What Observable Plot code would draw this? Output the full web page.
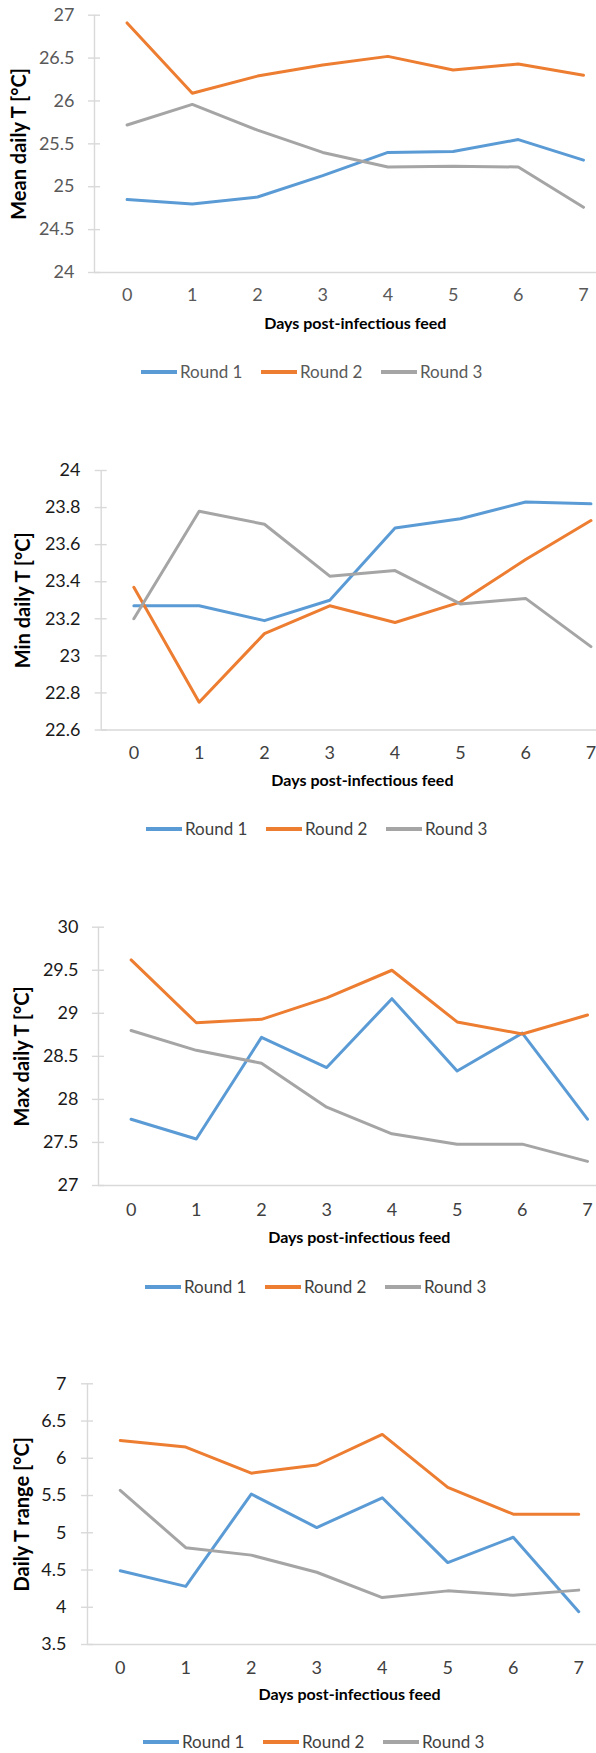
<!DOCTYPE html>
<html><head><meta charset="utf-8">
<script src="https://cdn.jsdelivr.net/npm/d3@7"></script>
<script src="https://cdn.jsdelivr.net/npm/@observablehq/plot@0.6"></script>
<style>
html,body{margin:0;padding:0;background:#fff;overflow:hidden;}
#root{position:relative;width:596px;height:1753px;overflow:hidden;font-family:Lato,"Open Sans",sans-serif;}
.panel{position:absolute;left:0;}
.panel svg{display:block;}
.legend{position:absolute;display:flex;align-items:center;font-size:17px;line-height:20px;white-space:nowrap;}
.legend .item{display:flex;align-items:center;width:120px;}
.legend .sw{width:36px;height:3.2px;margin-right:3px;flex:none;}
</style></head><body><div id="root"></div>
<script>
// ---- data ----
const days = [0, 1, 2, 3, 4, 5, 6, 7];
const seriesNames = ["Round 1", "Round 2", "Round 3"];
const seriesColors = ["#5B9BD5", "#ED7D31", "#A5A5A5"];
const xTitle = "Days post-infectious feed";

const meanTitle = "Mean daily T [°C]";
const meanTicks = [24, 24.5, 25, 25.5, 26, 26.5, 27];
const meanR1 = [24.85, 24.80, 24.88, 25.13, 25.40, 25.41, 25.55, 25.31];
const meanR2 = [26.91, 26.09, 26.29, 26.42, 26.52, 26.36, 26.43, 26.30];
const meanR3 = [25.72, 25.96, 25.66, 25.40, 25.23, 25.24, 25.23, 24.76];

const minTitle = "Min daily T [°C]";
const minTicks = [22.6, 22.8, 23, 23.2, 23.4, 23.6, 23.8, 24];
const minR1 = [23.27, 23.27, 23.19, 23.30, 23.69, 23.74, 23.83, 23.82];
const minR2 = [23.37, 22.75, 23.12, 23.27, 23.18, 23.29, 23.52, 23.73];
const minR3 = [23.20, 23.78, 23.71, 23.43, 23.46, 23.28, 23.31, 23.05];

const maxTitle = "Max daily T [°C]";
const maxTicks = [27, 27.5, 28, 28.5, 29, 29.5, 30];
const maxR1 = [27.77, 27.54, 28.72, 28.37, 29.17, 28.33, 28.77, 27.77];
const maxR2 = [29.62, 28.89, 28.93, 29.18, 29.50, 28.90, 28.76, 28.98];
const maxR3 = [28.80, 28.57, 28.42, 27.91, 27.60, 27.48, 27.48, 27.28];

const rangeTitle = "Daily T range [°C]";
const rangeTicks = [3.5, 4, 4.5, 5, 5.5, 6, 6.5, 7];
const rangeR1 = [4.49, 4.28, 5.52, 5.07, 5.47, 4.60, 4.94, 3.94];
const rangeR2 = [6.24, 6.15, 5.80, 5.91, 6.32, 5.61, 5.25, 5.25];
const rangeR3 = [5.57, 4.80, 4.70, 4.47, 4.13, 4.22, 4.16, 4.23];

// ---- layout ----
const panels = [
  {yTitle: meanTitle, yTicks: meanTicks, series: [meanR1, meanR2, meanR3],
   top: 0, height: 345, frameTop: 14.7, frameBottom: 272, axisX: 94, step: 65.2, labelRight: 74,
   yTitleX: 19, xPad: 16, xTitleDy: 51, legendLeft: 141, legendY: 372,
   yTickColor: "#595959", xTickColor: "#595959", legendColor: "#595959"},
  {yTitle: minTitle, yTicks: minTicks, series: [minR1, minR2, minR3],
   top: 440, height: 350, frameTop: 470, frameBottom: 729.5, axisX: 100.7, step: 65.3, labelRight: 80,
   yTitleX: 23, xPad: 16.5, xTitleDy: 51, legendLeft: 146, legendY: 829,
   yTickColor: "#1a1a1a", xTickColor: "#404040", legendColor: "#404040"},
  {yTitle: maxTitle, yTicks: maxTicks, series: [maxR1, maxR2, maxR3],
   top: 880, height: 360, frameTop: 926.7, frameBottom: 1185, axisX: 98, step: 65.2, labelRight: 78,
   yTitleX: 22, xPad: 17.5, xTitleDy: 52, legendLeft: 145, legendY: 1287,
   yTickColor: "#1a1a1a", xTickColor: "#404040", legendColor: "#404040"},
  {yTitle: rangeTitle, yTicks: rangeTicks, series: [rangeR1, rangeR2, rangeR3],
   top: 1320, height: 390, frameTop: 1383.3, frameBottom: 1644, axisX: 87, step: 65.5, labelRight: 66,
   yTitleX: 22, xPad: 16.5, xTitleDy: 50, legendLeft: 143, legendY: 1742,
   yTickColor: "#1a1a1a", xTickColor: "#404040", legendColor: "#404040"}
];

const root = document.getElementById("root");
const axisGray = "#d9d9d9";

panels.forEach(p => {
  const rows = [];
  p.series.forEach((vals, si) => vals.forEach((v, i) => rows.push({day: days[i], value: v, series: seriesNames[si]})));
  const yMin = p.yTicks[0], yMax = p.yTicks[p.yTicks.length - 1];
  const xLo = days[0] - 0.5, xHi = days[days.length - 1] + 0.5;
  const H = p.height;
  const chart = Plot.plot({
    width: 596, height: H,
    marginTop: p.frameTop - p.top,
    marginBottom: H - (p.frameBottom - p.top),
    marginLeft: p.axisX, marginRight: 0,
    x: {type: "linear", domain: [xLo, xHi], range: [p.axisX, p.axisX + days.length * p.step]},
    y: {domain: [yMin, yMax]},
    color: {domain: seriesNames, range: seriesColors},
    style: {fontFamily: "Lato, 'Open Sans', sans-serif", fontSize: "18px", overflow: "visible", background: "transparent"},
    marks: [
      Plot.ruleY([yMin], {stroke: axisGray, strokeWidth: 1.4}),
      Plot.ruleX([xLo], {y1: yMin, y2: yMax, stroke: axisGray, strokeWidth: 1.4}),
      Plot.axisY({ticks: p.yTicks, tickSize: 12, dx: 6, tickPadding: p.axisX - 6 - p.labelRight,
        stroke: axisGray, strokeWidth: 1.4, fill: p.yTickColor, label: null, fontSize: 18,
        tickFormat: d => String(d)}),
      Plot.axisX({ticks: days, tickSize: 0, tickPadding: p.xPad, fill: p.xTickColor, label: null,
        fontSize: 18, tickFormat: d => String(d)}),
      Plot.line(rows, {x: "day", y: "value", z: "series", stroke: "series", strokeWidth: 3,
        strokeLinejoin: "round", strokeLinecap: "round"}),
      Plot.text([xTitle], {x: () => (days[0] + days[days.length - 1]) / 2, frameAnchor: "bottom",
        dy: p.xTitleDy, fontWeight: "bold", fontSize: 16, fill: "#000", lineAnchor: "middle"}),
      Plot.text([p.yTitle], {frameAnchor: "left", rotate: -90, dx: p.yTitleX - p.axisX,
        fontWeight: "bold", fontSize: 20, fill: "#000", lineAnchor: "middle", textAnchor: "middle"})
    ]
  });
  const wrap = document.createElement("div");
  wrap.className = "panel";
  wrap.style.top = p.top + "px";
  wrap.appendChild(chart);
  root.appendChild(wrap);

  const lg = document.createElement("div");
  lg.className = "legend";
  lg.style.left = p.legendLeft + "px";
  lg.style.top = (p.legendY - 10) + "px";
  lg.style.color = p.legendColor;
  seriesNames.forEach((name, i) => {
    const it = document.createElement("div");
    it.className = "item";
    const sw = document.createElement("span");
    sw.className = "sw";
    sw.style.background = seriesColors[i];
    const tx = document.createElement("span");
    tx.textContent = name;
    it.appendChild(sw); it.appendChild(tx);
    lg.appendChild(it);
  });
  root.appendChild(lg);
});
</script>
</body></html>
